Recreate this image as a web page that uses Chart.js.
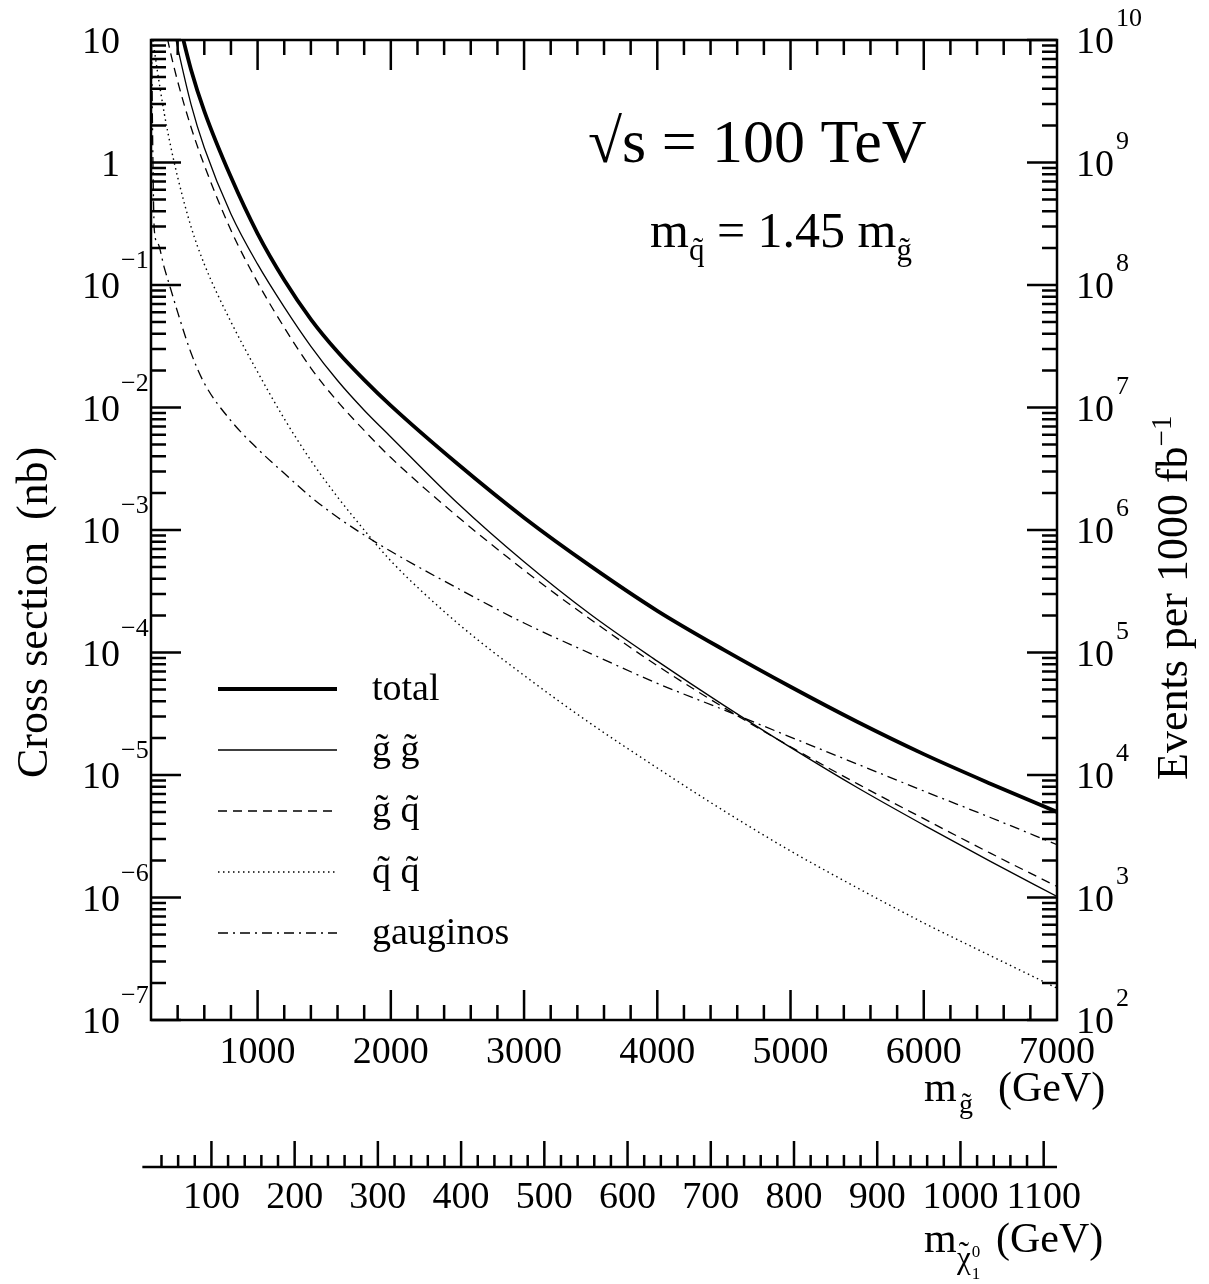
<!DOCTYPE html>
<html>
<head>
<meta charset="utf-8">
<title>SUSY production cross sections at 100 TeV</title>
<script src="https://cdn.jsdelivr.net/npm/chart.js@4.4.1/dist/chart.umd.min.js"></script>
<style>
  html, body { margin: 0; padding: 0; background: #fff; }
  canvas { display: block; }
</style>
</head>
<body>
<canvas id="xsec" width="1209" height="1284"></canvas>
<script>
// gluino mass grid (GeV)
const gluinoMass = [200, 225, 250, 300, 350, 400, 500, 600, 800, 1000, 1200, 1400, 1600, 1800,
  2000, 2500, 3000, 3500, 4000, 4500, 5000, 5500, 6000, 6500, 7000];

// cross sections (nb), null where the curve is still far above the plot
const sigmaTotal = [null, null, null, null, null, 15.5, 5.75, 2.63, 0.76, 0.263, 0.110, 0.0525, 0.0285, 0.0168,
  0.01035, 3.47e-3, 1.26e-3, 5.07e-4, 2.19e-4, 1.05e-4, 5.25e-5, 2.72e-5, 1.48e-5, 8.5e-6, 5.0e-6];
const sigmaGG = [null, null, null, null, 15.8, 8.7, 3.0, 1.32, 0.38, 0.148, 0.066, 0.0316, 0.0166, 9.5e-3,
  5.75e-3, 1.66e-3, 5.5e-4, 2.04e-4, 8.5e-5, 3.7e-5, 1.68e-5, 7.9e-6, 3.9e-6, 1.97e-6, 1.02e-6];
const sigmaGQ = [null, null, null, 13.5, 7.6, 4.6, 1.95, 0.95, 0.28, 0.105, 0.045, 0.021, 0.0112, 6.5e-3,
  3.9e-3, 1.29e-3, 4.7e-4, 1.86e-4, 7.8e-5, 3.55e-5, 1.7e-5, 8.5e-6, 4.4e-6, 2.3e-6, 1.23e-6];
const sigmaQQ = [13.2, 8.3, 5.4, 2.5, 1.32, 0.76, 0.30, 0.148, 0.050, 0.0195, 8.1e-3, 3.7e-3, 1.86e-3, 1.0e-3,
  5.6e-4, 1.74e-4, 6.5e-5, 2.63e-5, 1.14e-5, 5.1e-6, 2.4e-6, 1.2e-6, 6.2e-7, 3.35e-7, 1.82e-7];
const sigmaGaugino = [20, 0.28, 0.22, 0.138, 0.091, 0.060, 0.028, 0.0158, 7.8e-3, 4.6e-3, 2.9e-3, 1.86e-3, 1.27e-3, 9.1e-4,
  6.7e-4, 3.35e-4, 1.74e-4, 9.8e-5, 5.6e-5, 3.4e-5, 2.04e-5, 1.23e-5, 7.4e-6, 4.5e-6, 2.7e-6];

const seriesLabels = ['total', 'g\u0303 g\u0303', 'g\u0303 q\u0303', 'q\u0303 q\u0303', 'gauginos'];

// axis ticks
const gluinoMajor = [1000, 2000, 3000, 4000, 5000, 6000, 7000];
const gluinoMinorStep = 200;
const sigmaExponents = [-7, -6, -5, -4, -3, -2, -1, 0, 1];
const eventExponents = [2, 3, 4, 5, 6, 7, 8, 9, 10];
const neutralinoMajor = [100, 200, 300, 400, 500, 600, 700, 800, 900, 1000, 1100];
const neutralinoMinorStep = 20;

const lumi = 1e9; // 1000 fb^-1 expressed in nb^-1

const serif = '"Liberation Serif", "Times New Roman", serif';
const font = (px) => px + 'px ' + serif;

function points(sigma) {
  return gluinoMass.map((m, i) => ({ x: m, y: sigma[i] }));
}

// draw text pieces one after another (sub/superscripts via size and dy)
function drawRuns(ctx, x, y, runs) {
  for (const r of runs) {
    ctx.font = font(r.size);
    if (r.x !== undefined) x = r.x;
    ctx.fillText(r.text, x, y + (r.dy || 0));
    x += ctx.measureText(r.text).width;
  }
}

const framePlugin = {
  id: 'frame',
  afterDatasetsDraw(chart) {
    const { ctx, chartArea: a, scales } = chart;
    const sx = scales.x, sy = scales.y, se = scales.yEvents, sc = scales.xChi;
    ctx.save();
    ctx.strokeStyle = '#000';
    ctx.fillStyle = '#000';
    ctx.lineCap = 'butt';

    // frame
    ctx.lineWidth = 2.5;
    ctx.strokeRect(a.left, a.top, a.right - a.left, a.bottom - a.top);

    // gluino axis ticks (bottom and top)
    ctx.beginPath();
    for (let m = sx.min + gluinoMinorStep; m < sx.max; m += gluinoMinorStep) {
      const px = sx.getPixelForValue(m);
      const len = gluinoMajor.includes(m) ? 30 : 15;
      ctx.moveTo(px, a.bottom); ctx.lineTo(px, a.bottom - len);
      ctx.moveTo(px, a.top); ctx.lineTo(px, a.top + len);
    }
    // cross section ticks (left)
    for (const e of sigmaExponents) {
      for (let k = 1; k <= 9; k++) {
        const v = k * Math.pow(10, e);
        if (v < sy.min || v > sy.max) continue;
        const py = sy.getPixelForValue(v);
        ctx.moveTo(a.left, py); ctx.lineTo(a.left + (k === 1 ? 30 : 15), py);
      }
    }
    // event ticks (right)
    for (const e of eventExponents) {
      for (let k = 1; k <= 9; k++) {
        const v = k * Math.pow(10, e);
        if (v < se.min || v > se.max) continue;
        const py = se.getPixelForValue(v);
        ctx.moveTo(a.right, py); ctx.lineTo(a.right - (k === 1 ? 30 : 15), py);
      }
    }
    ctx.stroke();

    // tick labels
    ctx.textBaseline = 'alphabetic';
    ctx.font = font(38);
    ctx.textAlign = 'center';
    for (const m of gluinoMajor) ctx.fillText(String(m), sx.getPixelForValue(m), a.bottom + 43);

    for (const e of sigmaExponents) {
      const py = sy.getPixelForValue(Math.pow(10, e));
      ctx.font = font(38);
      ctx.textAlign = 'right';
      if (e === 0) { ctx.fillText('1', 120, py + 13); continue; }
      ctx.fillText('10', 120, py + 13);
      if (e !== 1) {
        ctx.font = font(26);
        ctx.textAlign = 'left';
        ctx.fillText('\u2212' + Math.abs(e), 121, py - 17);
      }
    }
    for (const e of eventExponents) {
      const py = se.getPixelForValue(Math.pow(10, e));
      ctx.textAlign = 'left';
      ctx.font = font(38);
      ctx.fillText('10', 1076, py + 13);
      ctx.font = font(26);
      ctx.fillText(String(e), 1116, py - 14);
    }

    // neutralino mass axis below the plot
    const chiY = 1167;
    ctx.lineWidth = 2.5;
    ctx.beginPath();
    ctx.moveTo(sc.getPixelForValue(17), chiY);
    ctx.lineTo(a.right, chiY);
    for (let n = 40; n <= 1100; n += neutralinoMinorStep) {
      const px = sc.getPixelForValue(n);
      ctx.moveTo(px, chiY);
      ctx.lineTo(px, chiY - (n % 100 === 0 ? 26 : 12));
    }
    ctx.stroke();
    ctx.font = font(38);
    ctx.textAlign = 'center';
    for (const n of neutralinoMajor) ctx.fillText(String(n), sc.getPixelForValue(n), chiY + 41);

    // axis titles
    ctx.textAlign = 'left';
    drawRuns(ctx, 0, 1101, [
      { text: 'm', size: 42, x: 924 },
      { text: 'g\u0303', size: 28, dy: 12, x: 959 },
      { text: '(GeV)', size: 42, x: 998 },
    ]);
    drawRuns(ctx, 0, 1252, [
      { text: 'm', size: 42, x: 924 },
      { text: '(GeV)', size: 42, x: 996 },
    ]);
    // neutralino symbol: chi with tilde, superscript 0 and subscript 1
    ctx.font = font(31);
    const chiW = ctx.measureText('\u03c7').width;
    ctx.fillText('\u03c7', 957, 1268);
    ctx.textAlign = 'center';
    ctx.fillText('\u02dc', 957 + chiW / 2, 1263);
    ctx.textAlign = 'left';
    ctx.font = font(17);
    ctx.fillText('0', 958 + chiW, 1257);
    ctx.fillText('1', 958 + chiW, 1279);

    ctx.save();
    ctx.translate(47, 778);
    ctx.rotate(-Math.PI / 2);
    ctx.font = font(44);
    ctx.fillText('Cross section  (nb)', 0, 0);
    ctx.restore();

    ctx.save();
    ctx.translate(1187, 780);
    ctx.rotate(-Math.PI / 2);
    drawRuns(ctx, 0, 0, [
      { text: 'Events per 1000 fb', size: 44 },
      { text: '\u22121', size: 29, dy: -16 },
    ]);
    ctx.restore();

    // annotations
    ctx.font = font(62);
    ctx.fillText('\u221as = 100 TeV', 588, 162);
    drawRuns(ctx, 650, 247, [
      { text: 'm', size: 50 },
      { text: 'q\u0303', size: 31, dy: 13 },
      { text: ' = 1.45 m', size: 50 },
      { text: 'g\u0303', size: 31, dy: 13 },
    ]);

    // legend
    const rows = [689, 750, 811, 872, 933];
    chart.data.datasets.forEach((ds, i) => {
      const y = rows[i];
      ctx.beginPath();
      ctx.lineWidth = ds.borderWidth;
      ctx.setLineDash(ds.borderDash || []);
      ctx.moveTo(218, y);
      ctx.lineTo(337, y);
      ctx.stroke();
      ctx.setLineDash([]);
      ctx.font = font(38);
      ctx.fillText(ds.label, 372, y + 11);
    });

    ctx.restore();
  }
};

const curveStyle = {
  borderColor: '#000',
  pointRadius: 0,
  cubicInterpolationMode: 'monotone',
  clip: 0,
  fill: false,
};

new Chart(document.getElementById('xsec'), {
  type: 'line',
  data: {
    datasets: [
      { ...curveStyle, label: seriesLabels[0], data: points(sigmaTotal), borderWidth: 3.8 },
      { ...curveStyle, label: seriesLabels[1], data: points(sigmaGG), borderWidth: 1.3 },
      { ...curveStyle, label: seriesLabels[2], data: points(sigmaGQ), borderWidth: 1.3, borderDash: [9, 6] },
      { ...curveStyle, label: seriesLabels[3], data: points(sigmaQQ), borderWidth: 1.4, borderDash: [1.5, 3.5] },
      { ...curveStyle, label: seriesLabels[4], data: points(sigmaGaugino), borderWidth: 1.3, borderDash: [10, 5, 2, 5] },
    ],
  },
  options: {
    responsive: false,
    animation: false,
    layout: { padding: { left: 151, top: 40, right: 152, bottom: 264 } },
    plugins: { legend: { display: false }, tooltip: { enabled: false } },
    scales: {
      x: { type: 'linear', min: 200, max: 7000, display: false },
      y: { type: 'logarithmic', min: 1e-7, max: 10, display: false },
      yEvents: { type: 'logarithmic', axis: 'y', position: 'right', min: 1e-7 * lumi, max: 10 * lumi, display: false },
      xChi: { type: 'linear', axis: 'x', position: 'bottom', min: 27.4, max: 1116, display: false },
    },
  },
  plugins: [framePlugin],
});
</script>
</body>
</html>
